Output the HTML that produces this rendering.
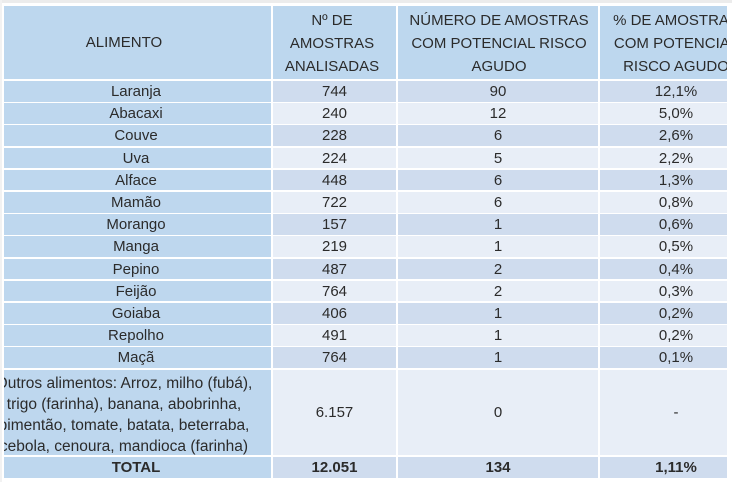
<!DOCTYPE html>
<html>
<head>
<meta charset="utf-8">
<style>
html,body{margin:0;padding:0;}
body{width:732px;height:482px;position:relative;overflow:hidden;background:#ffffff;
font-family:"Liberation Sans",Arial,sans-serif;font-size:15px;color:#2b2b2b;}
.strip{position:absolute;left:0;top:0;width:732px;height:3px;background:#ececec;}
.lstrip{position:absolute;left:0;top:0;width:2px;height:482px;background:#f2f2f2;}
.c{position:absolute;overflow:hidden;}
.t{position:absolute;top:0;text-align:center;white-space:nowrap;}
.h{background:#bdd7ee;}
.a{background:#bed7ee;}
.d{background:#cfdcee;}
.l{background:#e8eef7;}
b{font-weight:bold;}
</style>
</head>
<body>
<div class="strip"></div>
<div class="lstrip"></div>

<!-- HEADER -->
<div class="c h" style="left:4px;top:6px;width:267px;height:73px;">
  <div class="t" style="left:0;width:240px;line-height:73px;">ALIMENTO</div>
</div>
<div class="c h" style="left:273px;top:6px;width:123px;height:73px;">
  <div class="t" style="left:0;width:118px;top:3px;line-height:23px;">Nº DE<br>AMOSTRAS<br>ANALISADAS</div>
</div>
<div class="c h" style="left:398px;top:6px;width:200px;height:73px;">
  <div class="t" style="left:0;width:202px;top:3px;line-height:23px;">NÚMERO DE AMOSTRAS<br>COM POTENCIAL RISCO<br>AGUDO</div>
</div>
<div class="c h" style="left:600px;top:6px;width:127px;height:73px;">
  <div class="t" style="left:0;width:152px;top:3px;line-height:23px;">% DE AMOSTRAS<br>COM POTENCIAL<br>RISCO AGUDO</div>
</div>

<!-- ROW 1 Laranja -->
<div class="c a" style="left:4px;top:81px;width:267px;height:21px;"><div class="t" style="left:0;width:264px;line-height:21px;">Laranja</div></div>
<div class="c d" style="left:273px;top:81px;width:123px;height:21px;"><div class="t" style="left:0;width:123px;line-height:21px;">744</div></div>
<div class="c d" style="left:398px;top:81px;width:200px;height:21px;"><div class="t" style="left:0;width:200px;line-height:21px;">90</div></div>
<div class="c d" style="left:600px;top:81px;width:127px;height:21px;"><div class="t" style="left:0;width:152px;line-height:21px;">12,1%</div></div>

<!-- ROW 2 Abacaxi -->
<div class="c a" style="left:4px;top:103.2px;width:267px;height:20.7px;"><div class="t" style="left:0;width:264px;line-height:21px;">Abacaxi</div></div>
<div class="c l" style="left:273px;top:103.2px;width:123px;height:20.7px;"><div class="t" style="left:0;width:123px;line-height:21px;">240</div></div>
<div class="c l" style="left:398px;top:103.2px;width:200px;height:20.7px;"><div class="t" style="left:0;width:200px;line-height:21px;">12</div></div>
<div class="c l" style="left:600px;top:103.2px;width:127px;height:20.7px;"><div class="t" style="left:0;width:152px;line-height:21px;">5,0%</div></div>

<!-- ROW 3 Couve -->
<div class="c a" style="left:4px;top:125.4px;width:267px;height:20.7px;"><div class="t" style="left:0;width:264px;line-height:21px;">Couve</div></div>
<div class="c d" style="left:273px;top:125.4px;width:123px;height:20.7px;"><div class="t" style="left:0;width:123px;line-height:21px;">228</div></div>
<div class="c d" style="left:398px;top:125.4px;width:200px;height:20.7px;"><div class="t" style="left:0;width:200px;line-height:21px;">6</div></div>
<div class="c d" style="left:600px;top:125.4px;width:127px;height:20.7px;"><div class="t" style="left:0;width:152px;line-height:21px;">2,6%</div></div>

<!-- ROW 4 Uva -->
<div class="c a" style="left:4px;top:147.6px;width:267px;height:20.7px;"><div class="t" style="left:0;width:264px;line-height:21px;">Uva</div></div>
<div class="c l" style="left:273px;top:147.6px;width:123px;height:20.7px;"><div class="t" style="left:0;width:123px;line-height:21px;">224</div></div>
<div class="c l" style="left:398px;top:147.6px;width:200px;height:20.7px;"><div class="t" style="left:0;width:200px;line-height:21px;">5</div></div>
<div class="c l" style="left:600px;top:147.6px;width:127px;height:20.7px;"><div class="t" style="left:0;width:152px;line-height:21px;">2,2%</div></div>

<!-- ROW 5 Alface -->
<div class="c a" style="left:4px;top:169.8px;width:267px;height:20.7px;"><div class="t" style="left:0;width:264px;line-height:21px;">Alface</div></div>
<div class="c d" style="left:273px;top:169.8px;width:123px;height:20.7px;"><div class="t" style="left:0;width:123px;line-height:21px;">448</div></div>
<div class="c d" style="left:398px;top:169.8px;width:200px;height:20.7px;"><div class="t" style="left:0;width:200px;line-height:21px;">6</div></div>
<div class="c d" style="left:600px;top:169.8px;width:127px;height:20.7px;"><div class="t" style="left:0;width:152px;line-height:21px;">1,3%</div></div>

<!-- ROW 6 Mamão -->
<div class="c a" style="left:4px;top:192px;width:267px;height:20.7px;"><div class="t" style="left:0;width:264px;line-height:21px;">Mamão</div></div>
<div class="c l" style="left:273px;top:192px;width:123px;height:20.7px;"><div class="t" style="left:0;width:123px;line-height:21px;">722</div></div>
<div class="c l" style="left:398px;top:192px;width:200px;height:20.7px;"><div class="t" style="left:0;width:200px;line-height:21px;">6</div></div>
<div class="c l" style="left:600px;top:192px;width:127px;height:20.7px;"><div class="t" style="left:0;width:152px;line-height:21px;">0,8%</div></div>

<!-- ROW 7 Morango -->
<div class="c a" style="left:4px;top:214.2px;width:267px;height:20.7px;"><div class="t" style="left:0;width:264px;line-height:21px;">Morango</div></div>
<div class="c d" style="left:273px;top:214.2px;width:123px;height:20.7px;"><div class="t" style="left:0;width:123px;line-height:21px;">157</div></div>
<div class="c d" style="left:398px;top:214.2px;width:200px;height:20.7px;"><div class="t" style="left:0;width:200px;line-height:21px;">1</div></div>
<div class="c d" style="left:600px;top:214.2px;width:127px;height:20.7px;"><div class="t" style="left:0;width:152px;line-height:21px;">0,6%</div></div>

<!-- ROW 8 Manga -->
<div class="c a" style="left:4px;top:236.4px;width:267px;height:20.7px;"><div class="t" style="left:0;width:264px;line-height:21px;">Manga</div></div>
<div class="c l" style="left:273px;top:236.4px;width:123px;height:20.7px;"><div class="t" style="left:0;width:123px;line-height:21px;">219</div></div>
<div class="c l" style="left:398px;top:236.4px;width:200px;height:20.7px;"><div class="t" style="left:0;width:200px;line-height:21px;">1</div></div>
<div class="c l" style="left:600px;top:236.4px;width:127px;height:20.7px;"><div class="t" style="left:0;width:152px;line-height:21px;">0,5%</div></div>

<!-- ROW 9 Pepino -->
<div class="c a" style="left:4px;top:258.6px;width:267px;height:20.7px;"><div class="t" style="left:0;width:264px;line-height:21px;">Pepino</div></div>
<div class="c d" style="left:273px;top:258.6px;width:123px;height:20.7px;"><div class="t" style="left:0;width:123px;line-height:21px;">487</div></div>
<div class="c d" style="left:398px;top:258.6px;width:200px;height:20.7px;"><div class="t" style="left:0;width:200px;line-height:21px;">2</div></div>
<div class="c d" style="left:600px;top:258.6px;width:127px;height:20.7px;"><div class="t" style="left:0;width:152px;line-height:21px;">0,4%</div></div>

<!-- ROW 10 Feijão -->
<div class="c a" style="left:4px;top:280.8px;width:267px;height:20.7px;"><div class="t" style="left:0;width:264px;line-height:21px;">Feijão</div></div>
<div class="c l" style="left:273px;top:280.8px;width:123px;height:20.7px;"><div class="t" style="left:0;width:123px;line-height:21px;">764</div></div>
<div class="c l" style="left:398px;top:280.8px;width:200px;height:20.7px;"><div class="t" style="left:0;width:200px;line-height:21px;">2</div></div>
<div class="c l" style="left:600px;top:280.8px;width:127px;height:20.7px;"><div class="t" style="left:0;width:152px;line-height:21px;">0,3%</div></div>

<!-- ROW 11 Goiaba -->
<div class="c a" style="left:4px;top:303px;width:267px;height:20.7px;"><div class="t" style="left:0;width:264px;line-height:21px;">Goiaba</div></div>
<div class="c d" style="left:273px;top:303px;width:123px;height:20.7px;"><div class="t" style="left:0;width:123px;line-height:21px;">406</div></div>
<div class="c d" style="left:398px;top:303px;width:200px;height:20.7px;"><div class="t" style="left:0;width:200px;line-height:21px;">1</div></div>
<div class="c d" style="left:600px;top:303px;width:127px;height:20.7px;"><div class="t" style="left:0;width:152px;line-height:21px;">0,2%</div></div>

<!-- ROW 12 Repolho -->
<div class="c a" style="left:4px;top:325.2px;width:267px;height:20.7px;"><div class="t" style="left:0;width:264px;line-height:21px;">Repolho</div></div>
<div class="c l" style="left:273px;top:325.2px;width:123px;height:20.7px;"><div class="t" style="left:0;width:123px;line-height:21px;">491</div></div>
<div class="c l" style="left:398px;top:325.2px;width:200px;height:20.7px;"><div class="t" style="left:0;width:200px;line-height:21px;">1</div></div>
<div class="c l" style="left:600px;top:325.2px;width:127px;height:20.7px;"><div class="t" style="left:0;width:152px;line-height:21px;">0,2%</div></div>

<!-- ROW 13 Maçã -->
<div class="c a" style="left:4px;top:347.4px;width:267px;height:20.7px;"><div class="t" style="left:0;width:264px;line-height:21px;">Maçã</div></div>
<div class="c d" style="left:273px;top:347.4px;width:123px;height:20.7px;"><div class="t" style="left:0;width:123px;line-height:21px;">764</div></div>
<div class="c d" style="left:398px;top:347.4px;width:200px;height:20.7px;"><div class="t" style="left:0;width:200px;line-height:21px;">1</div></div>
<div class="c d" style="left:600px;top:347.4px;width:127px;height:20.7px;"><div class="t" style="left:0;width:152px;line-height:21px;">0,1%</div></div>

<!-- OUTROS -->
<div class="c a" style="left:4px;top:369.6px;width:267px;height:85.6px;">
  <div class="t" style="left:-80px;width:400px;top:3.5px;line-height:21px;font-size:15.5px;">Outros alimentos: Arroz, milho (fubá),<br>trigo (farinha), banana, abobrinha,<br>pimentão, tomate, batata, beterraba,<br>cebola, cenoura, mandioca (farinha)</div>
</div>
<div class="c l" style="left:273px;top:369.6px;width:123px;height:85.6px;"><div class="t" style="left:0;width:123px;line-height:85px;">6.157</div></div>
<div class="c l" style="left:398px;top:369.6px;width:200px;height:85.6px;"><div class="t" style="left:0;width:200px;line-height:85px;">0</div></div>
<div class="c l" style="left:600px;top:369.6px;width:127px;height:85.6px;"><div class="t" style="left:0;width:152px;line-height:85px;">-</div></div>

<!-- TOTAL -->
<div class="c a" style="left:4px;top:457px;width:267px;height:21px;"><div class="t" style="left:0;width:264px;line-height:21px;"><b>TOTAL</b></div></div>
<div class="c d" style="left:273px;top:457px;width:123px;height:21px;"><div class="t" style="left:0;width:123px;line-height:21px;"><b>12.051</b></div></div>
<div class="c d" style="left:398px;top:457px;width:200px;height:21px;"><div class="t" style="left:0;width:200px;line-height:21px;"><b>134</b></div></div>
<div class="c d" style="left:600px;top:457px;width:127px;height:21px;"><div class="t" style="left:0;width:152px;line-height:21px;"><b>1,11%</b></div></div>

</body>
</html>
